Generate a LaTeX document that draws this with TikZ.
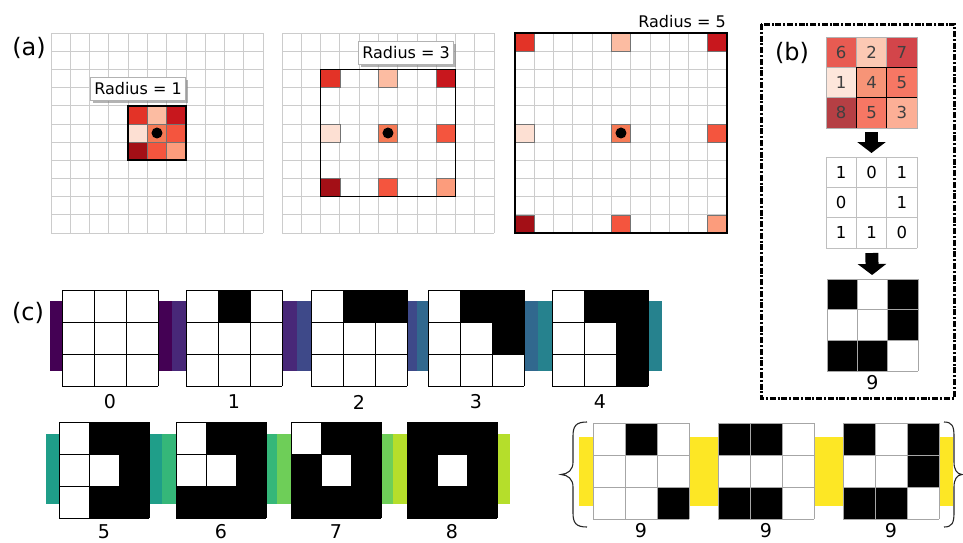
\documentclass[tikz,border=0pt]{standalone}
\usepackage{fontspec}
\setmainfont{DejaVu Sans}
\usetikzlibrary{positioning,arrows.meta,shadows}

\definecolor{red1}{HTML}{FDE0D3}
\definecolor{red2}{HTML}{FCBCA2}
\definecolor{red3}{HTML}{FC9C7C}
\definecolor{red4}{HTML}{F67A55}
\definecolor{red5}{HTML}{F4553E}
\definecolor{red6}{HTML}{E33327}
\definecolor{red7}{HTML}{C8171D}
\definecolor{red8}{HTML}{A30F16}
\definecolor{vir0}{HTML}{440154}
\definecolor{vir1}{HTML}{482878}
\definecolor{vir2}{HTML}{3E4989}
\definecolor{vir3}{HTML}{31688E}
\definecolor{vir4}{HTML}{26828E}
\definecolor{vir5}{HTML}{1F9E89}
\definecolor{vir6}{HTML}{35B779}
\definecolor{vir7}{HTML}{6ECE58}
\definecolor{vir8}{HTML}{B5DE2B}
\definecolor{vir9}{HTML}{FDE725}

% 3x3 binary pattern: name, left, top, width, height, bits
\newcommand{\lbpcells}[6]{%
  \node[patbox, minimum width=#4pt, minimum height=#5pt, anchor=north west] (#1) at (#2,#3) {};
  \foreach \b [count=\i from 0] in {#6} {
    \pgfmathtruncatemacro{\colno}{mod(\i,3)}
    \pgfmathtruncatemacro{\rowno}{int(\i/3)}
    \ifnum\b=1 \fill[black] (#2+\colno*#4/3, #3+\rowno*#5/3) rectangle ++(#4/3, #5/3);\fi
  }
  \foreach \k in {0,1,2,3} {
    \draw[celledge] (#2+\k*#4/3, #3) -- ++(0,#5);
    \draw[celledge] (#2, #3+\k*#5/3) -- ++(#4,0);
  }
}

\begin{document}
\begin{tikzpicture}[x=1pt, y=-1pt,
    gridline/.style={draw=black!20, line width=0.7pt},
    window/.style={draw=black, line width=1.6pt},
    hotcell/.style={draw=black!55, line width=0.5pt},
    radbox/.style={draw=black!30, fill=white, line width=0.5pt, inner xsep=4pt, minimum height=23pt,
      font=\fontsize{16}{16}\selectfont,
      drop shadow={shadow xshift=2.5pt, shadow yshift=-2.5pt, fill=black!50, opacity=0.6}},
    panel/.style={font=\fontsize{24}{24}\selectfont, inner sep=0pt},
    num/.style={font=\fontsize{19}{19}\selectfont, inner sep=0pt},
    val/.style={font=\fontsize{16.5}{16.5}\selectfont, inner sep=0pt},
    patbox/.style={fill=white, inner sep=0pt, outer sep=0pt},
    celledge/.style={draw=black, line width=0.9pt},
    blockarr/.style={-{Triangle[width=28pt,length=11pt]}, line width=13pt},
    dashbox/.style={draw=black, line width=3pt, dash pattern=on 6pt off 1.8pt on 2pt off 1.8pt},
    brace/.style={draw=black!85, line width=1.1pt}
]
\useasboundingbox (0,0) rectangle (963,542);

% (a) neighbourhoods
\node[panel] (alab) at (29,48) {(a)};
\foreach \gx in {51,282,515} {
  \foreach \k in {0,...,11} {
    \draw[gridline] (\gx+\k*19.27, 33) -- ++(0,200);
    \draw[gridline] (\gx, 33+\k*18.18) -- ++(212,0);
  }
}
\foreach \gx/\rad in {51/1, 282/3, 515/5} {
  \foreach \dx/\dy/\v in {-1/-1/6, 0/-1/2, 1/-1/7, -1/0/1, 0/0/4, 1/0/5, -1/1/8, 0/1/5, 1/1/3} {
    \pgfmathsetmacro{\cx}{\gx+(5+\dx*\rad)*19.27}
    \pgfmathsetmacro{\cy}{33+(5+\dy*\rad)*18.18}
    \filldraw[hotcell, fill=red\v] (\cx,\cy) rectangle ++(19.27,18.18);
  }
  \pgfmathsetmacro{\wl}{\gx+(5-\rad)*19.27}
  \pgfmathsetmacro{\wt}{33+(5-\rad)*18.18}
  \pgfmathsetmacro{\wr}{\gx+(6+\rad)*19.27}
  \pgfmathsetmacro{\wb}{33+(6+\rad)*18.18}
  \draw[window] (\wl,\wt) rectangle (\wr,\wb);
  \fill (\gx+5.5*19.27, 33+5.5*18.18) circle (5.5pt);
}
\node[radbox] (rad1) at (138,88.5) {Radius = 1};
\node[radbox] (rad3) at (406,52.5) {Radius = 3};
\node[font=\fontsize{16}{16}\selectfont, anchor=east, inner sep=0pt] (rad5) at (726,22) {Radius = 5};

% (b) from gray values to a pattern
\draw[dashbox] (761,24) rectangle (954,398);
\node[panel] (blab) at (792,53) {(b)};
\node[patbox, minimum width=91pt, minimum height=91pt, anchor=north west] (heat) at (826,37) {};
\foreach \v [count=\i from 0] in {6,2,7,1,4,5,8,5,3} {
  \pgfmathtruncatemacro{\colno}{mod(\i,3)}
  \pgfmathtruncatemacro{\rowno}{int(\i/3)}
  \fill[red\v, fill opacity=0.8] (826+\colno*30.33, 37+\rowno*30.33) rectangle ++(30.33,30.33);
  \node[val, text=black!75] (h\i) at (841.2+\colno*30.33, 52.2+\rowno*30.33) {\v};
}
\draw[draw=black!30] (826,37) rectangle (917,128);
\draw[draw=black!30] (856.33,37) -- (856.33,67.33) (886.67,37) -- (886.67,67.33)
  (826,67.33) -- (856.33,67.33) (826,97.67) -- (856.33,97.67);
\draw[line width=0.9pt] (856.33,67.33) -- (856.33,128) (886.67,67.33) -- (886.67,128)
  (856.33,67.33) -- (917,67.33) (856.33,97.67) -- (917,97.67);

\node[patbox, minimum width=91pt, minimum height=91pt, anchor=north west] (vals) at (826,157) {};
\foreach \k in {0,1,2,3} {
  \draw[draw=black!25, line width=0.8pt] (826+\k*30.33,157) -- ++(0,91);
  \draw[draw=black!25, line width=0.8pt] (826,157+\k*30.33) -- ++(91,0);
}
\foreach \v/\colno/\rowno in {1/0/0, 0/1/0, 1/2/0, 0/0/1, 1/2/1, 1/0/2, 1/1/2, 0/2/2}
  \node[val] (v\colno\rowno) at (841.2+\colno*30.33, 172.2+\rowno*30.33) {\v};

\tikzset{celledge/.style={draw=black!35, line width=0.8pt}}
\lbpcells{bpat}{827}{279}{91}{92}{1,0,1,0,0,1,1,1,0}
\node[num] (blab9) at ([yshift=-12pt]bpat.south) {9};
\draw[blockarr, shorten <=4pt, shorten >=4pt] (heat) -- (vals);
\draw[blockarr, shorten <=5pt, shorten >=4pt] (vals) -- (bpat);

% (c) the ten pattern classes
\node[panel] (clab) at (28,313) {(c)};
\foreach \bl/\br/\bt/\bb/\col in {50/172/301/371/vir0, 172/297/301/371/vir1, 297/417/301/371/vir2,
    417/538/301/371/vir3, 538/662/301/371/vir4, 46/162/434/504/vir5, 162/277/434/504/vir6,
    277/393/434/504/vir7, 393/510/434/504/vir8, 579/953/437/506/vir9}
  \fill[\col] (\bl,\bt) rectangle (\br,\bb);

\tikzset{celledge/.style={draw=black, line width=0.9pt}}
\lbpcells{p0}{62}{290}{96}{96}{0,0,0,0,0,0,0,0,0}
\lbpcells{p1}{186}{290}{96}{96}{0,1,0,0,0,0,0,0,0}
\lbpcells{p2}{311}{290}{96}{96}{0,1,1,0,0,0,0,0,0}
\lbpcells{p3}{428}{290}{96}{96}{0,1,1,0,0,1,0,0,0}
\lbpcells{p4}{552}{290}{96}{96}{0,1,1,0,0,1,0,0,1}
\lbpcells{p5}{59}{422}{90}{96}{0,1,1,0,0,1,0,1,1}
\lbpcells{p6}{176}{422}{90}{96}{0,1,1,0,0,1,1,1,1}
\lbpcells{p7}{291}{422}{90}{96}{0,1,1,1,0,1,1,1,1}
\lbpcells{p8}{407}{422}{90}{96}{1,1,1,1,0,1,1,1,1}
\tikzset{celledge/.style={draw=black!35, line width=0.8pt}}
\lbpcells{p9a}{593}{423}{96}{96}{0,1,0,0,0,0,0,0,1}
\lbpcells{p9b}{718}{423}{96}{96}{1,1,0,0,0,0,1,1,0}
\lbpcells{p9c}{843}{423}{96}{96}{1,0,1,0,0,1,1,1,0}

\foreach \pat/\lab in {p0/0, p1/1, p2/2, p3/3, p4/4}
  \node[num] (l-\pat) at ([yshift=-16pt]\pat.south) {\lab};
\foreach \pat/\lab in {p5/5, p6/6, p7/7, p8/8}
  \node[num] (l-\pat) at ([yshift=-14pt]\pat.south) {\lab};
\foreach \pat in {p9a, p9b, p9c}
  \node[num] (l-\pat) at ([yshift=-12pt]\pat.south) {9};

\draw[brace] (587,422) .. controls (576,422) and (573,426) .. (573,436) -- (573,462)
  .. controls (573,470) and (568,474) .. (561,474.5) .. controls (568,475) and (573,479) .. (573,487)
  -- (573,513) .. controls (573,523) and (576,527) .. (587,527);
\draw[brace] (944,422) .. controls (952,422) and (954,426) .. (954,436) -- (954,462)
  .. controls (954,470) and (957,474) .. (962,474.5) .. controls (957,475) and (954,479) .. (954,487)
  -- (954,513) .. controls (954,523) and (952,527) .. (944,527);
\end{tikzpicture}
\end{document}
